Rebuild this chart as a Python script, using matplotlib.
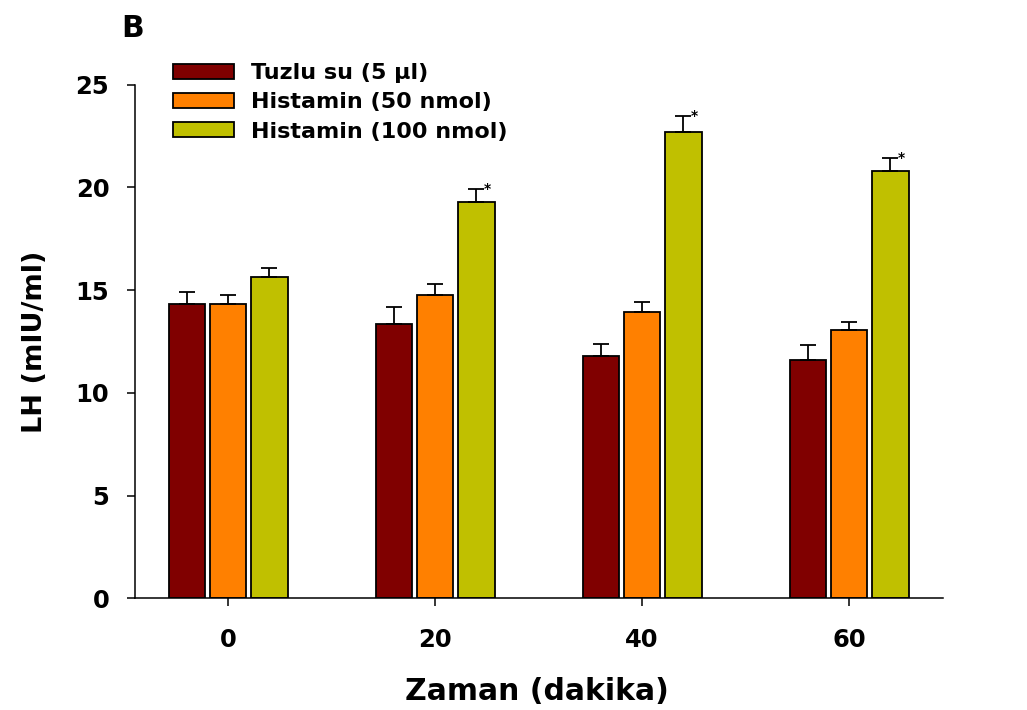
import matplotlib
matplotlib.use("Agg")
import matplotlib.pyplot as plt
import numpy as np

# ---- data ----
times = [0, 20, 40, 60]
series_names = ["Tuzlu su (5 µl)", "Histamin (50 nmol)", "Histamin (100 nmol)"]
saline = [14.33, 13.35, 11.78, 11.62]
saline_err = [0.57, 0.82, 0.58, 0.70]
hist50 = [14.33, 14.77, 13.95, 13.04]
hist50_err = [0.42, 0.52, 0.47, 0.41]
hist100 = [15.63, 19.28, 22.70, 20.80]
hist100_err = [0.45, 0.63, 0.77, 0.62]
significant100 = [False, True, True, True]
yticks = [0, 5, 10, 15, 20, 25]

colors = ["#800000", "#FF8000", "#C0C000"]

plt.rcParams['font.family'] = ['DejaVu Sans']
plt.rcParams['font.weight'] = 'bold'

fig = plt.figure(figsize=(10.27, 7.10), dpi=100)
W, H = 1027, 710
ax = fig.add_axes([135 / W, 1 - 598.3 / H, (943 - 135) / W, (598.3 - 84.7) / H])

x = np.array(times, dtype=float)
offset = 4.0
width = 3.5
values = [saline, hist50, hist100]
errs = [saline_err, hist50_err, hist100_err]
for i, (vals, er) in enumerate(zip(values, errs)):
    pos = x + (i - 1) * offset
    ax.bar(pos, vals, width=width, color=colors[i], edgecolor="black",
           linewidth=1.3, label=series_names[i], zorder=2)
    ax.errorbar(pos, vals, yerr=[np.zeros(len(vals)), er], fmt="none",
                ecolor="black", elinewidth=1.3, capsize=6, capthick=1.3, zorder=3)

# significance asterisks
pos100 = x + offset
for p, v, e, s in zip(pos100, hist100, hist100_err, significant100):
    if s:
        ax.annotate("*", xy=(p, v + e), xytext=(8, -2.5), textcoords="offset points",
                    ha="center", va="baseline", fontsize=10, fontweight="bold")

ax.set_xlim(-8.99, 69.08)
ax.set_ylim(0, 25)
ax.set_xticks(times)
ax.set_xticklabels([str(t) for t in times])
ax.set_yticks(yticks)
ax.set_yticklabels([str(t) for t in yticks])

for s in ["top", "right"]:
    ax.spines[s].set_visible(False)
for s in ["left", "bottom"]:
    ax.spines[s].set_linewidth(1.1)

ax.tick_params(axis="both", direction="out", length=5.5, width=1.1, labelsize=17.5)
ax.tick_params(axis="x", pad=16)
ax.tick_params(axis="y", pad=13)
for lab in ax.get_xticklabels() + ax.get_yticklabels():
    lab.set_fontweight("bold")

ax.set_xlabel("Zaman (dakika)", fontsize=21.5, fontweight="bold")
ax.set_ylabel("LH (mIU/ml)", fontsize=19.5, fontweight="bold")
ax.xaxis.set_label_coords(0.497, -0.153)
ax.yaxis.set_label_coords(-0.108, 0.5)

leg = ax.legend(loc="upper left", bbox_to_anchor=(173 / W, 1 - 63 / H),
                bbox_transform=fig.transFigure, frameon=False,
                prop={"size": 16, "weight": "bold"},
                handlelength=2.75, handleheight=0.67, handletextpad=0.75,
                labelspacing=0.42, borderpad=0, borderaxespad=0)

fig.text(121 / W, 1 - 37 / H, "B", fontsize=21.5, fontweight="bold",
         ha="left", va="baseline")

fig.savefig("out.png", dpi=100)
